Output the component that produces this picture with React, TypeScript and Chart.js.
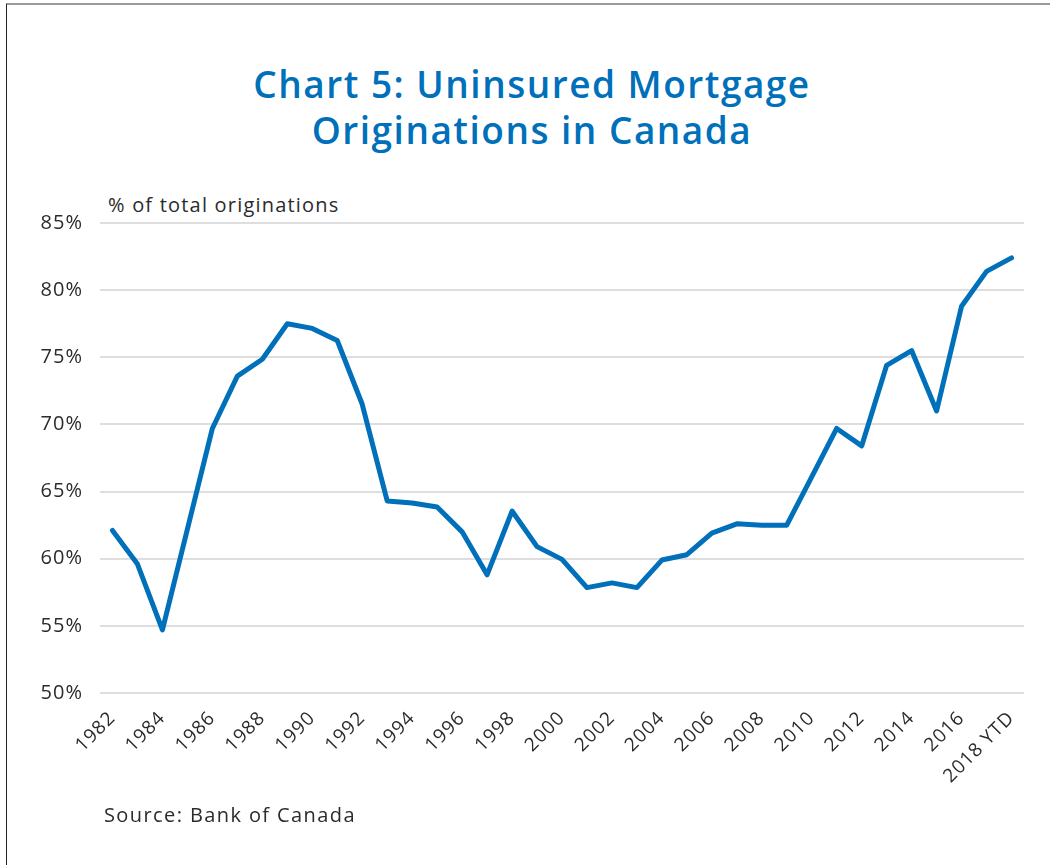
import React, { useEffect, useRef } from "react";
import { Chart, registerables } from "chart.js";

Chart.register(...registerables);

const categories: string[] = [
  "1982", "1983", "1984", "1985", "1986", "1987", "1988", "1989", "1990",
  "1991", "1992", "1993", "1994", "1995", "1996", "1997", "1998", "1999",
  "2000", "2001", "2002", "2003", "2004", "2005", "2006", "2007", "2008",
  "2009", "2010", "2011", "2012", "2013", "2014", "2015", "2016", "2017",
  "2018 YTD",
];

const uninsuredShare: number[] = [
  62.1, 59.6, 54.7, 62.2, 69.7, 73.6, 74.85, 77.5, 77.15,
  76.25, 71.5, 64.3, 64.15, 63.85, 62.0, 58.8, 63.55, 60.9,
  59.95, 57.85, 58.2, 57.85, 59.9, 60.3, 61.9, 62.6, 62.5,
  62.5, 66.1, 69.7, 68.4, 74.4, 75.5, 71.0, 78.8, 81.4,
  82.4,
];

const titleLines: string[] = ["Chart 5: Uninsured Mortgage", "Originations in Canada"];
const yCaption = "% of total originations";
const sourceText = "Source: Bank of Canada";
const yMin = 50;
const yMax = 85;
const yStep = 5;

const FONT = "'Open Sans', 'DejaVu Sans', sans-serif";
const TEXT = "#2b2b2b";
const BLUE = "#0070ba";

const spacingPlugin = {
  id: "letterSpacing",
  beforeDraw(chart: any) {
    try {
      (chart.ctx as any).letterSpacing = "1px";
    } catch (e) {
      /* ignore */
    }
  },
};

export default function App() {
  const canvasRef = useRef<HTMLCanvasElement | null>(null);

  useEffect(() => {
    if (!canvasRef.current) return;
    const chart = new Chart(canvasRef.current, {
      type: "line",
      data: {
        labels: categories,
        datasets: [
          {
            data: uninsuredShare,
            borderColor: BLUE,
            borderWidth: 5,
            pointRadius: 0,
            tension: 0,
            fill: false,
            borderCapStyle: "round",
            borderJoinStyle: "round",
          },
        ],
      },
      plugins: [spacingPlugin],
      options: {
        responsive: false,
        animation: false,
        layout: { padding: { top: 223, right: 26, bottom: 0, left: 0 } },
        plugins: {
          legend: { display: false },
          tooltip: { enabled: false },
          title: { display: false },
        },
        scales: {
          x: {
            type: "category",
            offset: true,
            grid: { display: false, drawTicks: false },
            border: { display: false },
            ticks: {
              autoSkip: false,
              minRotation: 45,
              maxRotation: 45,
              padding: 14,
              color: TEXT,
              font: { family: FONT, size: 19 },
              callback: function (_v: any, idx: number) {
                return idx % 2 === 0 ? categories[idx] : "";
              },
            },
            afterFit: (scale: any) => {
              scale.height = 172;
            },
          },
          y: {
            min: yMin,
            max: yMax,
            grid: { color: "#dedede", lineWidth: 2, drawTicks: false },
            border: { display: false },
            ticks: {
              stepSize: yStep,
              padding: 17,
              color: TEXT,
              font: { family: FONT, size: 20 },
              callback: (v: any) => `${v}%`,
            },
            afterFit: (scale: any) => {
              scale.width = 100;
            },
          },
        },
      },
    } as any);
    return () => chart.destroy();
  }, []);

  return (
    <div
      style={{
        position: "fixed",
        left: 0,
        top: 0,
        width: 1050,
        height: 865,
        background: "#fff",
        overflow: "hidden",
      }}
    >
      <div
        style={{
          position: "absolute",
          left: 6,
          top: 3,
          width: 1100,
          height: 900,
          borderLeft: "1.5px solid #222",
          borderTop: "2px solid #9a9a9a",
        }}
      />
      <div
        style={{
          position: "absolute",
          left: 32,
          top: 61,
          width: 1000,
          textAlign: "center",
          fontFamily: FONT,
          fontWeight: 600,
          fontSize: 37,
          lineHeight: "46px",
          letterSpacing: "1.5px",
          color: BLUE,
        }}
      >
        {titleLines.map((t) => (
          <div key={t}>{t}</div>
        ))}
      </div>
      <div
        style={{
          position: "absolute",
          left: 108,
          top: 195,
          fontFamily: FONT,
          fontSize: 20,
          lineHeight: "20px",
          letterSpacing: "1.2px",
          color: TEXT,
          whiteSpace: "nowrap",
        }}
      >
        {yCaption}
      </div>
      <canvas
        ref={canvasRef}
        width={1050}
        height={865}
        style={{ position: "absolute", left: 0, top: 0, width: 1050, height: 865 }}
      />
      <div
        style={{
          position: "absolute",
          left: 104,
          top: 805,
          fontFamily: FONT,
          fontSize: 20,
          lineHeight: "20px",
          letterSpacing: "1.4px",
          color: TEXT,
          whiteSpace: "nowrap",
        }}
      >
        {sourceText}
      </div>
    </div>
  );
}
